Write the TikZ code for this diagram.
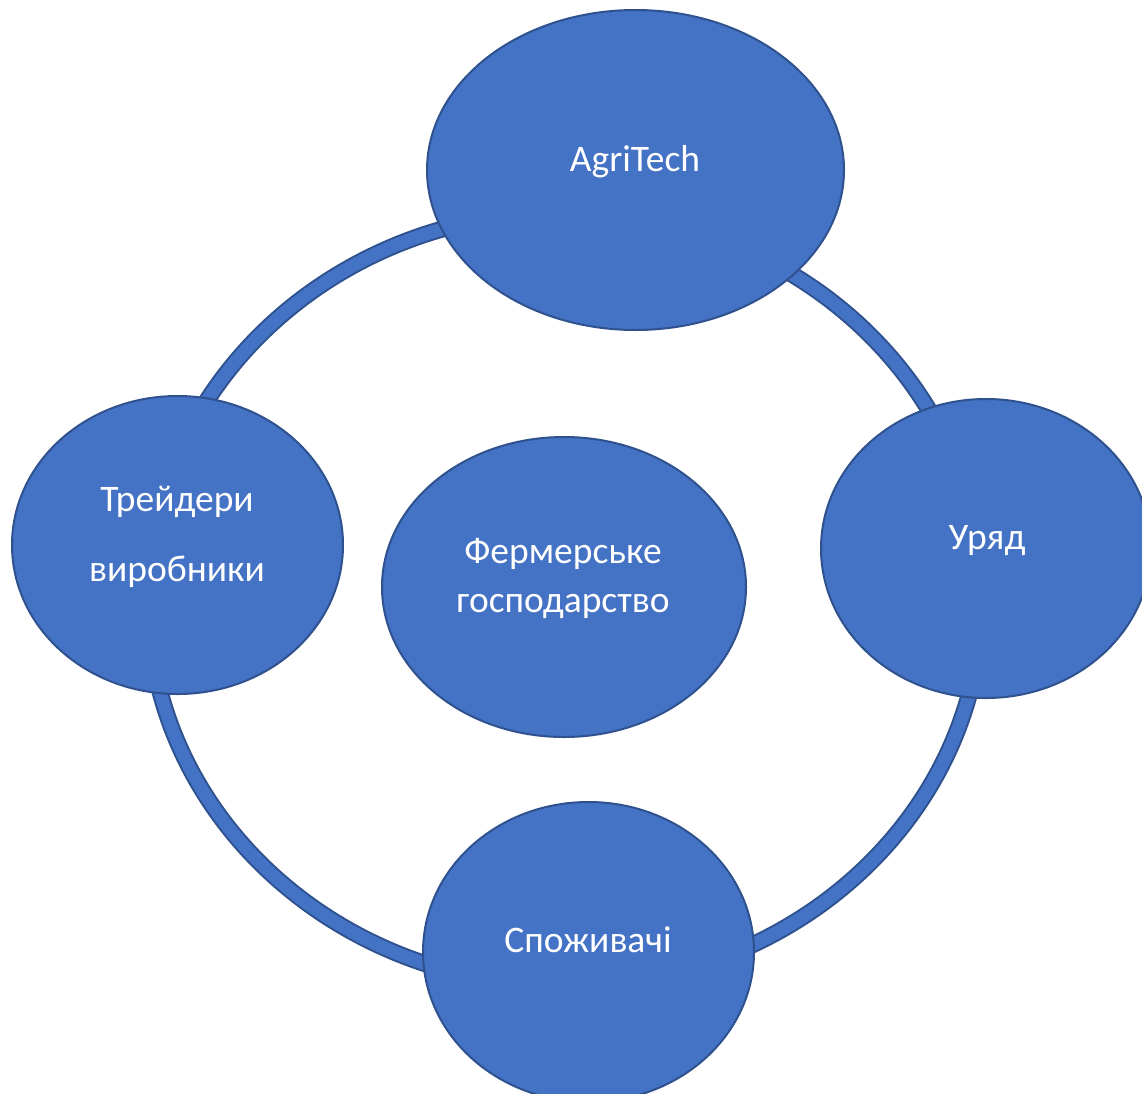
\documentclass[tikz,border=0pt]{standalone}
\usepackage{fontspec}
\setmainfont{Carlito}
\usetikzlibrary{shapes.geometric}
\definecolor{officeblue}{HTML}{4472C4}
\definecolor{darkedge}{HTML}{2F528F}
\tikzset{
  bubble/.style={ellipse, fill=officeblue, draw=darkedge, line width=2pt, inner sep=0pt},
  lbl/.style={anchor=base, inner sep=0pt, text=white, font=\fontsize{37.5}{45}\selectfont},
}
\begin{document}
\begin{tikzpicture}[x=1pt, y=-1pt]
\useasboundingbox (0,0) rectangle (1142,1093);
\fill[white] (0,0) rectangle (1142,1093);
% ring
\coordinate (ringc) at (565,599);
\draw[darkedge, line width=17pt] (ringc) ellipse [x radius=417pt, y radius=387pt];
\draw[officeblue, line width=13pt] (ringc) ellipse [x radius=417pt, y radius=387pt];
% bubbles
\node[bubble, minimum width=417pt, minimum height=320pt] (agri) at (635.5,170) {};
\node[bubble, minimum width=364pt, minimum height=300pt] (farm) at (564,587) {};
\node[bubble, minimum width=331pt, minimum height=298pt] (trade) at (177.5,545) {};
\node[bubble, minimum width=330pt, minimum height=299pt] (gov) at (986,548.5) {};
\node[bubble, minimum width=331pt, minimum height=300pt] (cons) at (588.5,952) {};
% labels
\node[lbl] (agriT) at (635,171) {AgriTech};
\node[lbl] (farmT1) at (563,563) {Фермерське};
\node[lbl] (farmT2) at (563,612) {господарство};
\node[lbl] (tradeT1) at (177,511) {Трейдери};
\node[lbl] (tradeT2) at (177,581) {виробники};
\node[lbl] (govT) at (987,549) {Уряд};
\node[lbl] (consT) at (588,952) {Споживачі};
\end{tikzpicture}
\end{document}
